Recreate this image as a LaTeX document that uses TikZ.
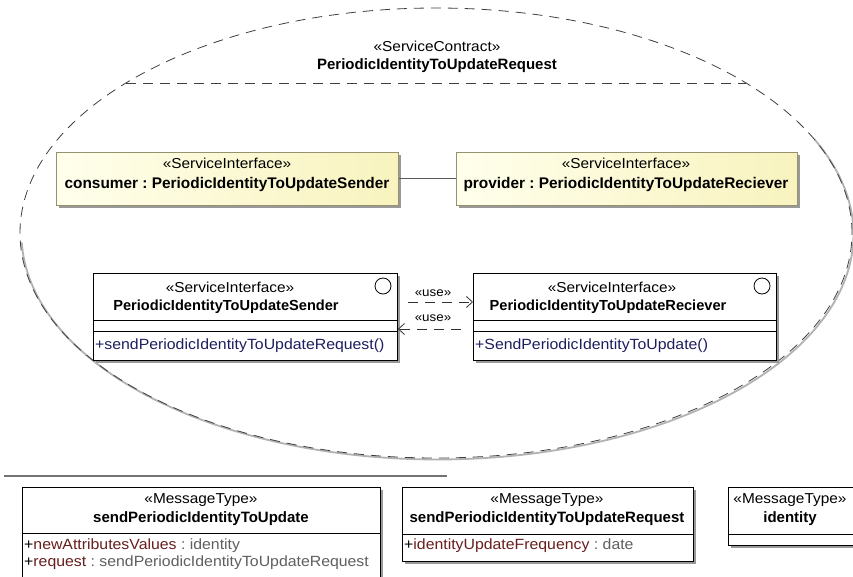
\documentclass[tikz,border=0pt]{standalone}
\usepackage{fontspec}
\setmainfont{Liberation Sans}
\newfontfamily\umlwide[FakeStretch=1.07]{Liberation Sans}
\usetikzlibrary{shapes.geometric,shadows,arrows.meta,calc}
\frenchspacing

\definecolor{attrname}{RGB}{105,30,30}
\definecolor{attrtype}{RGB}{95,95,95}
\definecolor{opcol}{RGB}{30,30,95}
\definecolor{partA}{RGB}{255,255,236}
\definecolor{partB}{RGB}{248,243,190}
\definecolor{partline}{RGB}{150,146,112}

\tikzset{
  boxshadow/.style={drop shadow={shadow xshift=3pt, shadow yshift=-3pt, fill=black!40, opacity=1}},
  classbox/.style={draw=black, fill=white, line width=0.9pt, rectangle, anchor=north west,
    inner sep=0pt, boxshadow},
  partbox/.style={draw=partline, line width=0.9pt, rectangle, anchor=north west, inner sep=0pt,
    left color=partA, right color=partB, boxshadow},
  stereo/.style={font=\umlwide\fontsize{14.4}{15}\selectfont, inner sep=0pt},
  cname/.style={font=\fontsize{14.6}{15}\selectfont\bfseries, inner sep=0pt},
  member/.style={font=\umlwide\fontsize{14.8}{15}\selectfont, inner sep=0pt, anchor=west},
  uselabel/.style={font=\umlwide\fontsize{12.5}{13}\selectfont, inner sep=0pt},
  usedep/.style={draw=black!80, line width=0.8pt, dash pattern=on 10pt off 7pt,
    -{Straight Barb[length=6pt,width=11pt,line width=0.8pt]}},
  divider/.style={draw=black, line width=0.9pt},
  icon/.style={circle, draw=black, line width=0.8pt, fill=white, minimum size=16pt, inner sep=0pt}
}

\begin{document}
\begin{tikzpicture}[x=1pt,y=-1pt]
\clip (0,0) rectangle (853,577);
\useasboundingbox (0,0) rectangle (853,577);
\fill[white] (0,0) rectangle (853,577);

% service contract: shadow arc, dashed ellipse and header line
\draw[black!30, line width=1.8pt] plot[domain=-25:178, samples=160]
  ({437.5+416*cos(\x)}, {234.5+225*sin(\x)});
\node[ellipse, draw=black!75, line width=0.8pt, dash pattern=on 10pt off 7pt,
  minimum width=832pt, minimum height=450pt, inner sep=0pt] (contract) at (436,233) {};
\coordinate (hdrL) at (126,83);
\coordinate (hdrR) at (746,83);
\draw[black!75, line width=0.8pt, dash pattern=on 10pt off 7pt] (hdrL) -- (hdrR);
\node[stereo] (contractst) at (437,46) {«ServiceContract»};
\node[cname, font=\fontsize{15}{15}\selectfont\bfseries] (contractnm) at (437,66) {PeriodicIdentityToUpdateRequest};

% parts
\node[partbox, minimum width=342pt, minimum height=53pt] (cons) at (56,152) {};
\node[partbox, minimum width=341pt, minimum height=53pt] (prov) at (456,152) {};
\node[stereo] (consst) at (227,163) {«ServiceInterface»};
\node[cname, font=\fontsize{15.4}{15}\selectfont\bfseries] (consnm) at (227,185) {consumer : PeriodicIdentityToUpdateSender};
\node[stereo] (provst) at (626,163) {«ServiceInterface»};
\node[cname, font=\fontsize{15.4}{15}\selectfont\bfseries] (provnm) at (626,185) {provider : PeriodicIdentityToUpdateReciever};
\draw[black!65, line width=0.9pt] (cons.east) -- (prov.west);

% interfaces
\node[classbox, minimum width=304pt, minimum height=87pt] (snd) at (93,273) {};
\draw[divider] (93,320) -- (397,320);
\draw[divider] (93,331) -- (397,331);
\node[icon] (sndicon) at (383,286) {};
\node[stereo] (sndst) at (230,287) {«ServiceInterface»};
\node[cname] (sndnm) at (226,307) {PeriodicIdentityToUpdateSender};
\node[member, text=opcol] (sndop) at (95,346) {+sendPeriodicIdentityToUpdateRequest()};

\node[classbox, minimum width=303pt, minimum height=87pt] (recv) at (473,273) {};
\draw[divider] (473,320) -- (776,320);
\draw[divider] (473,331) -- (776,331);
\node[icon] (recvicon) at (762,286) {};
\node[stereo] (recvst) at (612,287) {«ServiceInterface»};
\node[cname] (recvnm) at (608,307) {PeriodicIdentityToUpdateReciever};
\node[member, text=opcol] (recvop) at (475,346) {+SendPeriodicIdentityToUpdate()};

% usage dependencies
\coordinate (useAfrom) at (408,302);
\coordinate (useBfrom) at (461,329);
\draw[usedep] (useAfrom) -- (useAfrom -| recv.west);
\draw[usedep] (useBfrom) -- (useBfrom -| snd.east);
\node[uselabel] (useA) at (433,293) {«use»};
\node[uselabel] (useB) at (433,318) {«use»};

% package separator
\coordinate (sepL) at (4,476);
\coordinate (sepR) at (447,476);
\draw[black!55, line width=1.6pt] (sepL) -- (sepR);

% message types
\node[classbox, minimum width=358pt, minimum height=110pt] (msgA) at (22,487) {};
\draw[divider] (22,533) -- (380,533);
\node[stereo] (msgAst) at (201,500) {«MessageType»};
\node[cname, font=\fontsize{15}{15}\selectfont\bfseries] (msgAnm) at (201,519) {sendPeriodicIdentityToUpdate};
\node[member] (msgAa) at (24,546) {+\textcolor{attrname}{newAttributesValues} \textcolor{attrtype}{: identity}};
\node[member] (msgAb) at (24,563) {+\textcolor{attrname}{request} \textcolor{attrtype}{: sendPeriodicIdentityToUpdateRequest}};

\node[classbox, minimum width=291pt, minimum height=74pt] (msgB) at (402,487) {};
\draw[divider] (402,534) -- (693,534);
\node[stereo] (msgBst) at (547,500) {«MessageType»};
\node[cname, font=\fontsize{15}{15}\selectfont\bfseries] (msgBnm) at (547,519) {sendPeriodicIdentityToUpdateRequest};
\node[member] (msgBa) at (404,546) {+\textcolor{attrname}{identityUpdateFrequency} \textcolor{attrtype}{: date}};

\node[classbox, minimum width=130pt, minimum height=58pt] (msgC) at (728,487) {};
\draw[divider] (728,534) -- (858,534);
\node[stereo] (msgCst) at (790,500) {«MessageType»};
\node[cname, font=\fontsize{15}{15}\selectfont\bfseries] (msgCnm) at (790,519) {identity};
\end{tikzpicture}
\end{document}
